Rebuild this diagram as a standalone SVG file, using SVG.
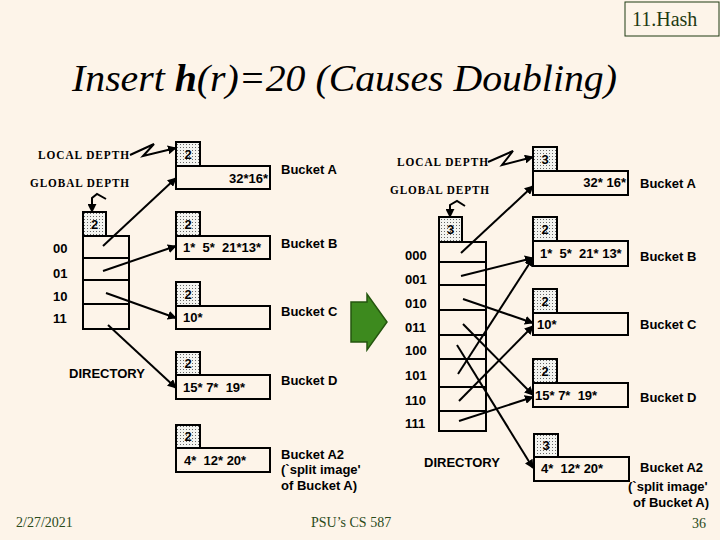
<svg xmlns="http://www.w3.org/2000/svg" width="720" height="540" viewBox="0 0 720 540">
<style>
.bg{fill:#fdf4e9}
.box{fill:none;stroke:#000;stroke-width:2}
.dbox{fill:url(#dots);stroke:#000;stroke-width:2}
.t{font-family:"Liberation Sans",Arial,sans-serif;font-weight:bold;font-size:13px;fill:#000}
.d{font-family:"Liberation Sans",Arial,sans-serif;font-weight:bold;font-size:13px;fill:#000;text-anchor:middle}
.ser{font-family:"Liberation Serif","Times New Roman",serif;font-weight:bold;font-size:12px;fill:#000;letter-spacing:1px}
.foot{font-family:"Liberation Serif","Times New Roman",serif;font-size:14px;fill:#2a4a1a}
.con{fill:none;stroke:#000;stroke-width:2;marker-end:url(#ah)}
</style>
<defs>
<pattern id="dots" width="3" height="3" patternUnits="userSpaceOnUse"><rect width="3" height="3" fill="#f4f4f0"/><rect width="1" height="1" fill="#666"/></pattern>
<marker id="ah" viewBox="0 0 10 10" refX="9" refY="5" markerWidth="9" markerHeight="9" markerUnits="userSpaceOnUse" orient="auto"><path d="M0,0 L10,5 L0,10 z" fill="#000"/></marker>
</defs>
<rect class="bg" width="720" height="540"/>
<g id="header">
<rect x="625" y="2" width="94" height="34" fill="none" stroke="#1f3a12" stroke-width="1"/>
<text x="632" y="26" font-family="'Liberation Serif','Times New Roman',serif" font-size="20" fill="#1f3a12">11.Hash</text>
</g>
<g id="title">
<text x="72" y="91" font-family="'Liberation Serif','Times New Roman',serif" font-style="italic" font-size="38" fill="#000" textLength="545" lengthAdjust="spacingAndGlyphs">Insert <tspan font-weight="bold">h</tspan>(r)=20 (Causes Doubling)</text>
</g>

<!-- Left state -->
<g id="left-labels">
<text class="ser" x="38" y="159" textLength="92" lengthAdjust="spacingAndGlyphs">LOCAL DEPTH</text>
<text class="ser" x="30" y="187" textLength="100" lengthAdjust="spacingAndGlyphs">GLOBAL DEPTH</text>
</g>
<g id="left-directory">
<rect class="dbox" x="83" y="212" width="23" height="24"/>
<text class="d" x="94.5" y="229">2</text>
<rect class="box" x="83" y="236" width="46" height="93"/>
<line x1="83" y1="258" x2="129" y2="258" stroke="#000" stroke-width="2"/>
<line x1="83" y1="280" x2="129" y2="280" stroke="#000" stroke-width="2"/>
<line x1="83" y1="304" x2="129" y2="304" stroke="#000" stroke-width="2"/>
<text class="t" x="53" y="253">00</text>
<text class="t" x="53" y="278">01</text>
<text class="t" x="53" y="301">10</text>
<text class="t" x="53" y="323">11</text>
<text class="t" x="69" y="378" font-size="14">DIRECTORY</text>
</g>
<g id="left-bucketA">
<rect class="dbox" x="176" y="142" width="24" height="24"/>
<text class="d" x="188" y="159">2</text>
<rect class="box" x="176" y="166" width="94" height="23"/>
<text class="t" x="268" y="183" text-anchor="end">32*16*</text>
<text class="t" x="281" y="174">Bucket A</text>
</g>
<g id="left-bucketB">
<rect class="dbox" x="176" y="212" width="24" height="24"/>
<text class="d" x="188" y="229">2</text>
<rect class="box" x="176" y="236" width="94" height="23"/>
<text class="t" x="183" y="252" xml:space="preserve">1*  5*  21*13*</text>
<text class="t" x="281" y="248">Bucket B</text>
</g>
<g id="left-bucketC">
<rect class="dbox" x="176" y="282" width="24" height="24"/>
<text class="d" x="188" y="299">2</text>
<rect class="box" x="176" y="306" width="94" height="23"/>
<text class="t" x="183" y="322">10*</text>
<text class="t" x="281" y="316">Bucket C</text>
</g>
<g id="left-bucketD">
<rect class="dbox" x="176" y="352" width="24" height="23"/>
<text class="d" x="188" y="368">2</text>
<rect class="box" x="176" y="375" width="94" height="24"/>
<text class="t" x="183" y="392" xml:space="preserve">15* 7*  19*</text>
<text class="t" x="281" y="385">Bucket D</text>
</g>
<g id="left-bucketA2">
<rect class="dbox" x="176" y="425" width="24" height="23"/>
<text class="d" x="188" y="441">2</text>
<rect class="box" x="176" y="448" width="94" height="24"/>
<text class="t" x="184" y="465" xml:space="preserve">4*  12* 20*</text>
<text class="t" x="281" y="459">Bucket A2</text>
<text class="t" x="281" y="474">(`split image'</text>
<text class="t" x="281" y="490">of Bucket A)</text>
</g>

<g id="transition">
<path d="M351,302 L367,302 L367,294 L387,322 L367,350 L367,342 L351,342 Z" fill="#3d8a1e" stroke="#25560f" stroke-width="1.5"/>
</g>

<!-- Right state -->
<g id="right-labels">
<text class="ser" x="397" y="166" textLength="92" lengthAdjust="spacingAndGlyphs">LOCAL DEPTH</text>
<text class="ser" x="390" y="194" textLength="100" lengthAdjust="spacingAndGlyphs">GLOBAL DEPTH</text>
</g>
<g id="right-directory">
<rect class="dbox" x="439" y="217" width="23" height="25"/>
<text class="d" x="450.5" y="234">3</text>
<rect class="box" x="439" y="242" width="47" height="189"/>
<line x1="439" y1="262" x2="486" y2="262" stroke="#000" stroke-width="2"/>
<line x1="439" y1="285" x2="486" y2="285" stroke="#000" stroke-width="2"/>
<line x1="439" y1="310" x2="486" y2="310" stroke="#000" stroke-width="2"/>
<line x1="439" y1="335" x2="486" y2="335" stroke="#000" stroke-width="2"/>
<line x1="439" y1="359" x2="486" y2="359" stroke="#000" stroke-width="2"/>
<line x1="439" y1="387" x2="486" y2="387" stroke="#000" stroke-width="2"/>
<line x1="439" y1="411" x2="486" y2="411" stroke="#000" stroke-width="2"/>
<text class="t" x="405" y="260">000</text>
<text class="t" x="405" y="284">001</text>
<text class="t" x="405" y="308">010</text>
<text class="t" x="405" y="332">011</text>
<text class="t" x="405" y="355">100</text>
<text class="t" x="405" y="380">101</text>
<text class="t" x="405" y="405">110</text>
<text class="t" x="405" y="428">111</text>
<text class="t" x="424" y="467" font-size="14">DIRECTORY</text>
</g>
<g id="right-bucketA">
<rect class="dbox" x="533" y="147" width="24" height="24"/>
<text class="d" x="545" y="164">3</text>
<rect class="box" x="533" y="171" width="95" height="24"/>
<text class="t" x="626" y="187" text-anchor="end">32* 16*</text>
<text class="t" x="640" y="188">Bucket A</text>
</g>
<g id="right-bucketB">
<rect class="dbox" x="533" y="217" width="24" height="24"/>
<text class="d" x="545" y="234">2</text>
<rect class="box" x="533" y="241" width="95" height="25"/>
<text class="t" x="540" y="258" xml:space="preserve">1*  5*  21* 13*</text>
<text class="t" x="640" y="261">Bucket B</text>
</g>
<g id="right-bucketC">
<rect class="dbox" x="533" y="289" width="24" height="24"/>
<text class="d" x="545" y="306">2</text>
<rect class="box" x="533" y="313" width="95" height="22"/>
<text class="t" x="537" y="329">10*</text>
<text class="t" x="640" y="329">Bucket C</text>
</g>
<g id="right-bucketD">
<rect class="dbox" x="533" y="359" width="24" height="24"/>
<text class="d" x="545" y="376">2</text>
<rect class="box" x="533" y="383" width="95" height="24"/>
<text class="t" x="535" y="400" xml:space="preserve">15* 7*  19*</text>
<text class="t" x="640" y="402">Bucket D</text>
</g>
<g id="right-bucketA2">
<rect class="dbox" x="534" y="434" width="24" height="23"/>
<text class="d" x="546" y="450">3</text>
<rect class="box" x="534" y="457" width="95" height="24"/>
<text class="t" x="541" y="473" xml:space="preserve">4*  12* 20*</text>
<text class="t" x="640" y="472">Bucket A2</text>
<text class="t" x="628" y="491">(`split image'</text>
<text class="t" x="633" y="507">of Bucket A)</text>
</g>

<g id="connectors">
<polyline class="con" points="130,155 154,144 143,156 176,148"/>
<polyline class="con" points="106,199 97,194 92,198 92,212"/>
<line class="con" x1="103" y1="246" x2="176" y2="178"/>
<line class="con" x1="103" y1="271" x2="176" y2="246"/>
<line class="con" x1="106" y1="293" x2="176" y2="318"/>
<line class="con" x1="108" y1="325" x2="176" y2="388"/>
<polyline class="con" points="488,162 513,151 502,165 533,157"/>
<polyline class="con" points="465,206 457,201 450,205 450,217"/>
<line class="con" x1="461" y1="253" x2="533" y2="186"/>
<line class="con" x1="461" y1="276" x2="533" y2="258"/>
<line class="con" x1="463" y1="299" x2="533" y2="323"/>
<line class="con" x1="463" y1="324" x2="533" y2="395"/>
<line class="con" x1="457" y1="345" x2="533" y2="468"/>
<line class="con" x1="458" y1="374" x2="533" y2="258"/>
<line class="con" x1="459" y1="401" x2="533" y2="326"/>
<line class="con" x1="459" y1="421" x2="533" y2="397"/>
</g>

<g id="footer">
<text class="foot" x="16" y="527">2/27/2021</text>
<text class="foot" x="311" y="527">PSU’s CS 587</text>
<text class="foot" x="692" y="528">36</text>
</g>
</svg>
